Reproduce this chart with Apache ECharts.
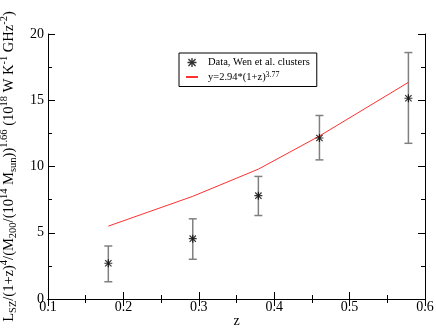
<!DOCTYPE html>
<html>
<head>
<meta charset="utf-8">
<script src="https://cdn.jsdelivr.net/npm/echarts@6/dist/echarts.min.js"></script>
<style>
  html, body { margin: 0; padding: 0; background: #fff; }
  #chart { width: 436px; height: 334px; }
</style>
</head>
<body>
<div id="chart"></div>
<script>
// data
const zData = [0.18, 0.292, 0.379, 0.46, 0.578]
const lszData = [2.7, 4.55, 7.8, 12.15, 15.15]
const errLow = [1.3, 3.0, 6.3, 10.5, 11.75]
const errHigh = [4.0, 6.05, 9.25, 13.85, 18.6]
const fitY = [5.5, 7.75, 9.8, 12.3, 16.35]

const serif = "'Liberation Serif', 'DejaVu Serif', serif"
// asterisk (+ and x) marker
const starPath = 'path://M8.5 0H11.5V20H8.5Z M0 8.5H20V11.5H0Z M1 3.1L3.1 1L19 16.9L16.9 19Z M16.9 1L19 3.1L3.1 19L1 16.9Z'

const chart = echarts.init(document.getElementById('chart'))

const tickCommon = {
  axisLine: { show: true, lineStyle: { color: '#000', width: 1 } },
  axisTick: { show: true, inside: true, length: 7, lineStyle: { color: '#000' } },
  minorTick: { show: true, splitNumber: 2, length: 4, lineStyle: { color: '#000' } },
  splitLine: { show: false },
  minorSplitLine: { show: false }
}

const yName = '{n|L}{sub|SZ}{n|/(1+z)}{sup|4}{n|/(M}{sub|200}{n|/(10}{sup|14}{n| M}{sub|sun}{n|))}{sup|1.66}{n| (10}{sup|18}{n| W K}{sup|-1}{n| GHz}{sup|-2}{n|)}'

const option = {
  animation: false,
  backgroundColor: '#fff',
  grid: { left: 48, right: 11, top: 34, bottom: 35, outerBoundsMode: 'none' },
  legend: {
    orient: 'vertical',
    left: 179,
    top: 53,
    padding: [4, 7, 4, 6],
    itemGap: 3,
    itemWidth: 12,
    itemHeight: 9,
    borderColor: '#000',
    borderWidth: 1,
    data: [
      { name: 'Data, Wen et al. clusters', icon: starPath },
      { name: 'fit', itemStyle: { color: 'rgba(0,0,0,0)', opacity: 0 } }
    ],
    formatter: function (name) {
      if (name === 'fit') return '{n|y=2.94*(1+z)}{s|3.77}'
      return '{n|' + name + '}'
    },
    textStyle: {
      fontFamily: serif,
      color: '#000',
      padding: [0, 0, 0, 5],
      rich: {
        n: { fontFamily: serif, fontSize: 10.5, color: '#000', lineHeight: 12 },
        s: { fontFamily: serif, fontSize: 8, color: '#000', verticalAlign: 'top', lineHeight: 8 }
      }
    }
  },
  xAxis: [
    Object.assign({
      type: 'value', min: 0.1, max: 0.6, interval: 0.1,
      name: 'z', nameLocation: 'middle', nameGap: 15, nameMoveOverlap: false,
      nameTextStyle: { fontFamily: serif, fontSize: 14, color: '#000' },
      axisLabel: { fontFamily: serif, fontSize: 14, color: '#000', margin: 1 }
    }, tickCommon),
    Object.assign({
      type: 'value', min: 0.1, max: 0.6, interval: 0.1, position: 'top',
      axisLabel: { show: false }
    }, tickCommon)
  ],
  yAxis: [
    Object.assign({
      type: 'value', min: 0, max: 20, interval: 5,
      name: yName, nameLocation: 'middle', nameGap: 17,
      nameTextStyle: {
        fontFamily: serif, color: '#000',
        rich: {
          n: { fontFamily: serif, fontSize: 14.5, color: '#000', lineHeight: 20 },
          sub: { fontFamily: serif, fontSize: 10.5, color: '#000', verticalAlign: 'bottom', lineHeight: 11 },
          sup: { fontFamily: serif, fontSize: 10.5, color: '#000', verticalAlign: 'top', lineHeight: 11 }
        }
      },
      axisLabel: { fontFamily: serif, fontSize: 14, color: '#000', margin: 4 }
    }, tickCommon),
    Object.assign({
      type: 'value', min: 0, max: 20, interval: 5, position: 'right',
      axisLabel: { show: false }
    }, tickCommon)
  ],
  series: [
    {
      name: 'errors',
      type: 'custom',
      xAxisIndex: 0,
      yAxisIndex: 0,
      encode: { x: 0, y: [1, 2] },
      data: zData.map((z, i) => [z, errLow[i], errHigh[i]]),
      renderItem: function (params, api) {
        const lo = api.coord([api.value(0), api.value(1)])
        const hi = api.coord([api.value(0), api.value(2)])
        const cap = 4
        const st = { stroke: '#808080', lineWidth: 1.5 }
        return {
          type: 'group',
          children: [
            { type: 'line', shape: { x1: lo[0], y1: lo[1], x2: hi[0], y2: hi[1] }, style: st },
            { type: 'line', shape: { x1: lo[0] - cap, y1: lo[1], x2: lo[0] + cap, y2: lo[1] }, style: st },
            { type: 'line', shape: { x1: hi[0] - cap, y1: hi[1], x2: hi[0] + cap, y2: hi[1] }, style: st }
          ]
        }
      },
      z: 2
    },
    {
      name: 'Data, Wen et al. clusters',
      type: 'scatter',
      symbol: starPath,
      symbolSize: 8,
      symbolKeepAspect: true,
      itemStyle: { color: '#000' },
      data: zData.map((z, i) => [z, lszData[i]]),
      z: 3
    },
    {
      name: 'fit',
      type: 'line',
      symbol: 'none',
      showSymbol: false,
      lineStyle: { color: '#ff3030', width: 1 },
      itemStyle: { color: '#ff3030' },
      data: zData.map((z, i) => [z, fitY[i]]),
      z: 2
    }
  ]
}

chart.setOption(option)
</script>
</body>
</html>
